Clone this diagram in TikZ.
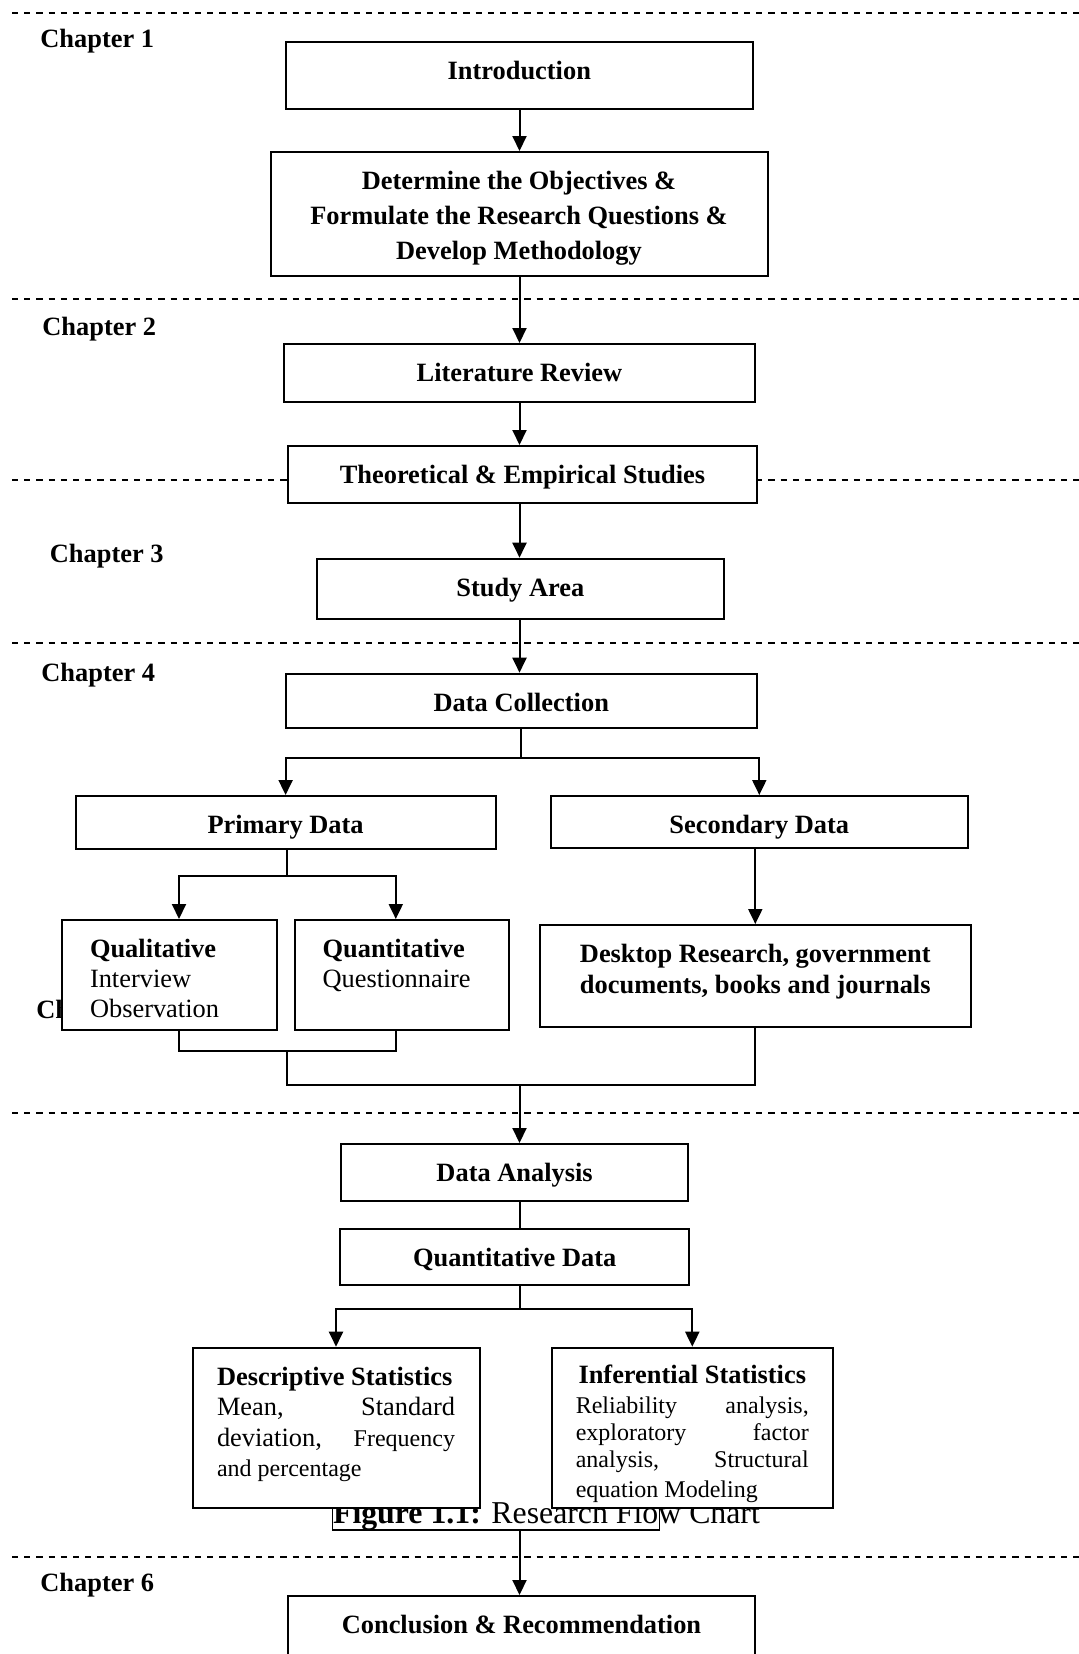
\documentclass[tikz,border=0pt]{standalone}
\usepackage{fontspec}
\setmainfont{Liberation Serif}
\usetikzlibrary{arrows.meta}
\tikzset{flowbox/.style = {draw, fill = white, line width = 1pt, anchor = north, inner xsep = 0pt, inner ysep = 4pt, text height = 14.7pt, font = \fontsize{13.2}{17.5}\selectfont\bfseries}}
\tikzset{infobox/.style = {flowbox, inner xsep = 14pt, align = flush left, font = \fontsize{13.2}{15}\selectfont}}
\tikzset{chaplabel/.style = {anchor = base west, inner sep = 0, font = \fontsize{13.2}{15}\selectfont\bfseries}}
\tikzset{chapline/.style = {line width = 0.9pt, dash pattern = on 3.1pt off 3pt}}
\tikzset{link/.style = {line width = 1pt}}
\tikzset{arr/.style = {link, -{Triangle[length = 7.5pt, width = 7pt]}}}

\begin{document}
\begin{tikzpicture}[x=0.5pt, y=-0.5pt]
    \useasboundingbox (0, 0) rectangle (1079, 1654);
    \foreach \y in {13, 299, 480, 643, 1113, 1557} {
      \draw [chapline] (12, \y) -- (1079, \y);
    }

    \node [chaplabel] (ch1) at (40, 47.7) {Chapter 1};
    \node [chaplabel] (ch2) at (42, 335.7) {Chapter 2};
    \node [chaplabel] (ch3) at (49.5, 562.7) {Chapter 3};
    \node [chaplabel] (ch4) at (41, 681.4) {Chapter 4};
    \node [chaplabel] (ch5) at (36, 1018.7) {Chapter 5};
    \node [chaplabel] (ch6) at (40, 1591.7) {Chapter 6};

    \node [flowbox, minimum width = 233.8pt, text depth = 10.8pt] (intro) at (519.3, 40.7) {Introduction};
    \node [flowbox, text width = 248.5pt, text depth = 39.5pt, align = flush center] (obj) at (519, 151) {Determine the Objectives \&\\ Formulate the Research Questions \&\\ Develop Methodology};
    \node [flowbox, minimum width = 235.7pt, text depth = 6.2pt] (lit) at (519.4, 343) {Literature Review};
    \node [flowbox, minimum width = 234.5pt, text depth = 6pt] (theo) at (522.5, 445) {Theoretical \& Empirical Studies};
    \node [flowbox, minimum width = 203.7pt, text depth = 7.3pt] (study) at (520.3, 557.7) {Study Area};
    \node [flowbox, minimum width = 235.7pt, text depth = 4.5pt] (dc) at (521.3, 672.7) {Data Collection};
    \node [flowbox, minimum width = 209.9pt, text depth = 3.8pt] (prim) at (285.6, 795) {Primary Data};
    \node [flowbox, minimum width = 208.7pt, text depth = 3.2pt] (sec) at (759.3, 795) {Secondary Data};
    \node [infobox, text width = 79.4pt, text depth = 32.3pt] (qual) at (169.4, 919) {\textbf{Qualitative}\\ Interview\\ Observation};
    \node [infobox, text width = 79.2pt, text depth = 32.3pt] (quant) at (401.8, 919) {\textbf{Quantitative}\\ Questionnaire};
    \node [flowbox, text width = 215.7pt, text depth = 28.2pt, align = flush center, font = \fontsize{13.2}{15.5}\selectfont\bfseries] (desk) at (755.3, 924) {Desktop Research, government\\ documents, books and journals};
    \node [flowbox, minimum width = 173.2pt, text depth = 5.8pt] (da) at (514.6, 1143) {Data Analysis};
    \node [flowbox, minimum width = 174.3pt, text depth = 5.3pt] (qd) at (514.7, 1227.7) {Quantitative Data};

    \node [anchor = base, inner sep = 0, font = \fontsize{15.9}{18}\selectfont] (figcap) at (546.5, 1523.5) {\textbf{Figure 1.1:} Research Flow Chart};
    \node [minimum width = 163pt, minimum height = 11.2pt, inner sep = 0] (figframe) at (496, 1518.2) {};
    \draw [line width = 0.8pt] (figframe.north west) -- (figframe.south west) -- (figframe.south east) -- (figframe.north east);

    \node [infobox, inner xsep = 12.25pt, text width = 119pt, text depth = 57.3pt, font = \fontsize{13.2}{15.3}\selectfont] (desc) at (336, 1346.7) {\textbf{Descriptive Statistics}\\ Mean,\hfill Standard\\ deviation,\hfill {\fontsize{12}{15.3}\selectfont Frequency}\\ \fontsize{12}{15.3}\selectfont and percentage};
    \node [infobox, inner xsep = 12.15pt, text width = 116.5pt, text height = 13.7pt, text depth = 58.3pt] (inf) at (692.3, 1346.7) {\hfill\textbf{Inferential Statistics}\hfill\null\\[1.35pt] \fontsize{12}{13.65}\selectfont Reliability\hfill analysis,\\ exploratory\hfill factor\\ analysis,\hfill Structural\\ equation Modeling};
    \node [flowbox, minimum width = 233.5pt, text depth = 8.3pt] (concl) at (521.5, 1595) {Conclusion \& Recommendation};

    \coordinate (spine) at (519.5, 0);
    \foreach \a/\b in {intro/obj, obj/lit, lit/theo, theo/study, study/dc} {
      \draw [arr] (\a.south -| spine) -- (\b.north -| spine);
    }

    \coordinate (dcfork) at (521, 758);
    \draw [link] (dc.south -| dcfork) -- (dcfork);
    \draw [arr] (dcfork) -| (prim.north);
    \draw [arr] (dcfork) -| (sec.north);

    \coordinate (primfork) at (287, 876);
    \draw [link] (prim.south -| primfork) -- (primfork);
    \draw [arr] (primfork) -| ([xshift = 4.8pt]qual.north);
    \draw [arr] (primfork) -| ([xshift = -3pt]quant.north);
    \draw [arr] (sec.south -| desk.north) -- (desk.north);

    \coordinate (qqjoin) at (287, 1051);
    \coordinate (alljoin) at (287, 1085);
    \draw [link] ([xshift = 4.8pt]qual.south) |- (qqjoin) -| ([xshift = -3pt]quant.south);
    \draw [link] (qqjoin) -- (alljoin) -| (desk.south);
    \draw [arr] (alljoin -| spine) -- (da.north -| spine);
    \draw [link] (da.south -| spine) -- (qd.north -| spine);

    \coordinate (qdfork) at (519.5, 1308.7);
    \draw [link] (qd.south -| spine) -- (qdfork);
    \draw [arr] (qdfork) -| (desc.north);
    \draw [arr] (qdfork) -| (inf.north);
    \draw [arr] (figframe.south -| spine) -- (concl.north -| spine);
  \end{tikzpicture}
\end{document}
